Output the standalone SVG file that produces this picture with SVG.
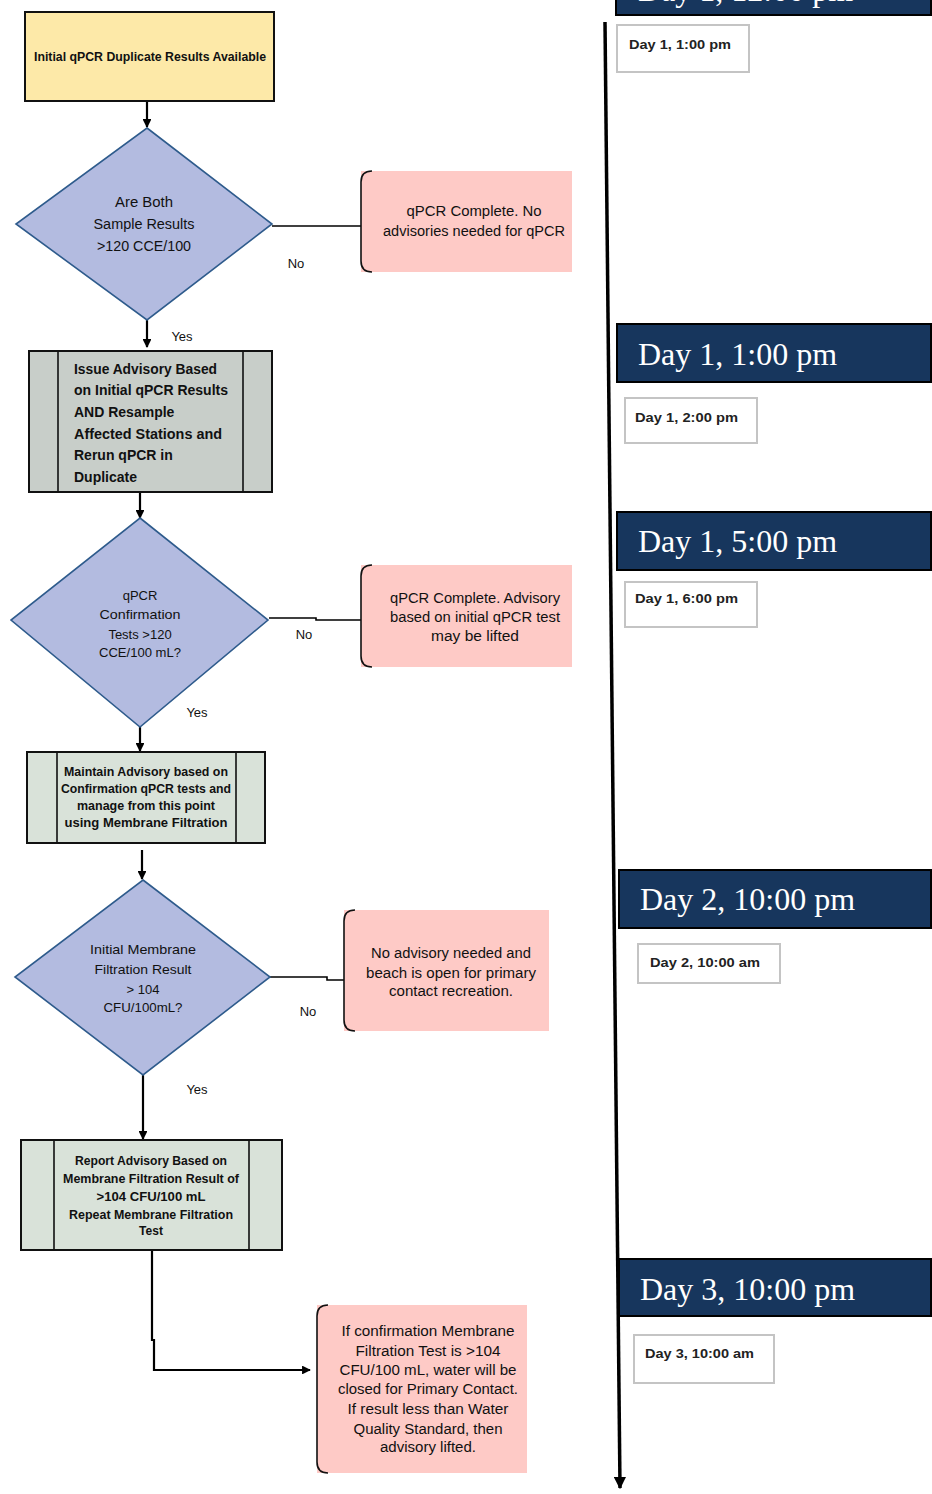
<svg xmlns="http://www.w3.org/2000/svg" width="932" height="1494" viewBox="0 0 932 1494">
<style>
.t{font-family:"Liberation Sans",Arial,sans-serif;fill:#111;}
.b{font-weight:bold;}
.c{text-anchor:middle;}
.dia{fill:#B3BBE0;stroke:#2E5B8C;stroke-width:1.6;}
.pink{fill:#FECAC6;}
.brk{fill:none;stroke:#111;stroke-width:1.6;}
.proc1{fill:#C8CEC9;stroke:#111;stroke-width:2;}
.proc2{fill:#D9E2D9;stroke:#111;stroke-width:2;}
.ln{fill:none;stroke:#111;stroke-width:1.6;}
.con{fill:none;stroke:#000;stroke-width:2.2;}
.navy{fill:#17365D;stroke:#000;stroke-width:2;}
.nt{font-family:"Liberation Serif","Times New Roman",serif;font-size:32px;fill:#fff;}
.wb{fill:#fff;stroke:#C4C4C4;stroke-width:2;}
.st{font-family:"Liberation Sans",Arial,sans-serif;font-weight:bold;font-size:13px;fill:#222;}
</style>
<defs>
<marker id="ah" viewBox="0 0 10 10" refX="9" refY="5" markerWidth="4" markerHeight="4" orient="auto" markerUnits="strokeWidth">
<path d="M0,0 L10,5 L0,10 z" fill="#000"/>
</marker>
<marker id="ahT" viewBox="0 0 10 10" refX="9" refY="5" markerWidth="3.5" markerHeight="3.5" orient="auto" markerUnits="strokeWidth">
<path d="M0,0 L10,5 L0,10 z" fill="#000"/>
</marker>
</defs>
<rect width="932" height="1494" fill="#fff"/>

<g id="connectors">
<path class="con" d="M147,101 V127" marker-end="url(#ah)"/>
<path class="con" d="M272,226 H361" style="stroke-width:1.6"/>
<path class="con" d="M147,320 V347" marker-end="url(#ah)"/>
<path class="con" d="M140,492 V518" marker-end="url(#ah)"/>
<path class="con" d="M269,618 H316 V620 H361" style="stroke-width:1.6"/>
<path class="con" d="M140,727 V751" marker-end="url(#ah)"/>
<path class="con" d="M142,850 V879" marker-end="url(#ah)"/>
<path class="con" d="M270,977 H327 V980 H344" style="stroke-width:1.6"/>
<path class="con" d="M143,1075 V1139" marker-end="url(#ah)"/>
<path class="con" d="M152,1250 V1340 H154 V1370 H310" marker-end="url(#ah)"/>
<path class="con" d="M605,22 L620,1488" style="stroke-width:3.5" marker-end="url(#ahT)"/>
</g>

<g id="labels">
<text class="t c" x="296" y="268" font-size="13">No</text>
<text class="t c" x="182" y="341" font-size="13">Yes</text>
<text class="t c" x="304" y="639" font-size="13">No</text>
<text class="t c" x="197" y="717" font-size="13">Yes</text>
<text class="t c" x="308" y="1016" font-size="13">No</text>
<text class="t c" x="197" y="1094" font-size="13">Yes</text>
</g>

<g id="start">
<rect x="25" y="12" width="249" height="89" fill="#FDE9A8" stroke="#111" stroke-width="2"/>
<text class="t b c" x="150" y="61" font-size="12" textLength="232" lengthAdjust="spacingAndGlyphs">Initial qPCR Duplicate Results Available</text>
</g>

<g id="decision1">
<polygon class="dia" points="147,128 272,224 147,320 16,224"/>
<text class="t c" x="144" y="207" font-size="14" textLength="58" lengthAdjust="spacingAndGlyphs">Are Both</text>
<text class="t c" x="144" y="229" font-size="14" textLength="101" lengthAdjust="spacingAndGlyphs">Sample Results</text>
<text class="t c" x="144" y="251" font-size="14" textLength="94" lengthAdjust="spacingAndGlyphs">&gt;120 CCE/100</text>
</g>

<g id="end1">
<rect class="pink" x="361" y="171" width="211" height="101"/>
<path class="brk" d="M372,171 Q361,171 361,182 V261 Q361,272 372,272"/>
<text class="t c" x="474" y="216" font-size="14" textLength="135" lengthAdjust="spacingAndGlyphs">qPCR Complete.  No</text>
<text class="t c" x="474" y="236" font-size="14" textLength="182" lengthAdjust="spacingAndGlyphs">advisories needed for qPCR</text>
</g>

<g id="process1">
<rect class="proc1" x="29" y="351" width="243" height="141"/>
<path class="ln" d="M58,351 V492 M243,351 V492"/>
<text class="t b" x="74" y="374" font-size="14" textLength="143" lengthAdjust="spacingAndGlyphs">Issue Advisory Based</text>
<text class="t b" x="74" y="395" font-size="14" textLength="154" lengthAdjust="spacingAndGlyphs">on Initial qPCR Results</text>
<text class="t b" x="74" y="417" font-size="14">AND Resample</text>
<text class="t b" x="74" y="439" font-size="14" textLength="148" lengthAdjust="spacingAndGlyphs">Affected Stations and</text>
<text class="t b" x="74" y="460" font-size="14">Rerun qPCR in</text>
<text class="t b" x="74" y="482" font-size="14">Duplicate</text>
</g>

<g id="decision2">
<polygon class="dia" points="140,518 268,620 140,727 11,620"/>
<text class="t c" x="140" y="600" font-size="13">qPCR</text>
<text class="t c" x="140" y="619" font-size="13" textLength="81" lengthAdjust="spacingAndGlyphs">Confirmation</text>
<text class="t c" x="140" y="639" font-size="13">Tests &gt;120</text>
<text class="t c" x="140" y="657" font-size="13" textLength="82" lengthAdjust="spacingAndGlyphs">CCE/100 mL?</text>
</g>

<g id="end2">
<rect class="pink" x="361" y="565" width="211" height="102"/>
<path class="brk" d="M372,565 Q361,565 361,576 V656 Q361,667 372,667"/>
<text class="t c" x="475" y="603" font-size="14" textLength="170" lengthAdjust="spacingAndGlyphs">qPCR Complete.  Advisory</text>
<text class="t c" x="475" y="622" font-size="14" textLength="170" lengthAdjust="spacingAndGlyphs">based on initial qPCR test</text>
<text class="t c" x="475" y="641" font-size="14" textLength="88" lengthAdjust="spacingAndGlyphs">may be lifted</text>
</g>

<g id="process2">
<rect class="proc2" x="27" y="752" width="238" height="91"/>
<path class="ln" d="M57,752 V843 M236,752 V843"/>
<text class="t b c" x="146" y="776" font-size="12" textLength="164" lengthAdjust="spacingAndGlyphs">Maintain Advisory based on</text>
<text class="t b c" x="146" y="793" font-size="12" textLength="170" lengthAdjust="spacingAndGlyphs">Confirmation qPCR tests and</text>
<text class="t b c" x="146" y="810" font-size="12" textLength="138" lengthAdjust="spacingAndGlyphs">manage from this point</text>
<text class="t b c" x="146" y="827" font-size="12" textLength="163" lengthAdjust="spacingAndGlyphs">using   Membrane Filtration</text>
</g>

<g id="decision3">
<polygon class="dia" points="143,880 270,977 143,1075 15,977"/>
<text class="t c" x="143" y="954" font-size="13" textLength="106" lengthAdjust="spacingAndGlyphs">Initial Membrane</text>
<text class="t c" x="143" y="974" font-size="13" textLength="97" lengthAdjust="spacingAndGlyphs">Filtration Result</text>
<text class="t c" x="143" y="994" font-size="13">&gt; 104</text>
<text class="t c" x="143" y="1012" font-size="13" textLength="79" lengthAdjust="spacingAndGlyphs">CFU/100mL?</text>
</g>

<g id="end3">
<rect class="pink" x="344" y="910" width="205" height="121"/>
<path class="brk" d="M355,910 Q344,910 344,921 V1020 Q344,1031 355,1031"/>
<text class="t c" x="451" y="958" font-size="14" textLength="160" lengthAdjust="spacingAndGlyphs">No advisory needed and</text>
<text class="t c" x="451" y="978" font-size="14" textLength="170" lengthAdjust="spacingAndGlyphs">beach is open for primary</text>
<text class="t c" x="451" y="996" font-size="14" textLength="124" lengthAdjust="spacingAndGlyphs">contact recreation.</text>
</g>

<g id="process3">
<rect class="proc2" x="21" y="1140" width="261" height="110"/>
<path class="ln" d="M54,1140 V1250 M249,1140 V1250"/>
<text class="t b c" x="151" y="1165" font-size="12" textLength="152" lengthAdjust="spacingAndGlyphs">Report Advisory Based on</text>
<text class="t b c" x="151" y="1183" font-size="12" textLength="176" lengthAdjust="spacingAndGlyphs">Membrane Filtration Result of</text>
<text class="t b c" x="151" y="1201" font-size="12" textLength="109" lengthAdjust="spacingAndGlyphs">&gt;104 CFU/100 mL</text>
<text class="t b c" x="151" y="1219" font-size="12" textLength="164" lengthAdjust="spacingAndGlyphs">Repeat Membrane Filtration</text>
<text class="t b c" x="151" y="1235" font-size="12">Test</text>
</g>

<g id="end4">
<rect class="pink" x="317" y="1305" width="210" height="168"/>
<path class="brk" d="M328,1305 Q317,1305 317,1316 V1462 Q317,1473 328,1473"/>
<text class="t c" x="428" y="1336" font-size="14" textLength="173" lengthAdjust="spacingAndGlyphs">If confirmation Membrane</text>
<text class="t c" x="428" y="1356" font-size="14" textLength="145" lengthAdjust="spacingAndGlyphs">Filtration Test is &gt;104</text>
<text class="t c" x="428" y="1375" font-size="14" textLength="177" lengthAdjust="spacingAndGlyphs">CFU/100 mL, water will be</text>
<text class="t c" x="428" y="1394" font-size="14" textLength="180" lengthAdjust="spacingAndGlyphs">closed for Primary Contact.</text>
<text class="t c" x="428" y="1414" font-size="14" textLength="161" lengthAdjust="spacingAndGlyphs">If result less than Water</text>
<text class="t c" x="428" y="1434" font-size="14" textLength="149" lengthAdjust="spacingAndGlyphs">Quality Standard, then</text>
<text class="t c" x="428" y="1452" font-size="14" textLength="96" lengthAdjust="spacingAndGlyphs">advisory lifted.</text>
</g>

<g id="time0">
<rect class="navy" x="616" y="-45" width="315" height="60"/>
<text class="nt" x="638" y="1">Day 1, 12:00 pm</text>
</g>
<g id="time1">
<rect class="navy" x="617" y="324" width="314" height="58"/>
<text class="nt" x="638" y="365">Day 1, 1:00 pm</text>
</g>
<g id="time2">
<rect class="navy" x="617" y="512" width="314" height="58"/>
<text class="nt" x="638" y="552">Day 1, 5:00 pm</text>
</g>
<g id="time3">
<rect class="navy" x="619" y="870" width="312" height="58"/>
<text class="nt" x="640" y="910">Day 2, 10:00 pm</text>
</g>
<g id="time4">
<rect class="navy" x="619" y="1259" width="312" height="57"/>
<text class="nt" x="640" y="1300">Day 3, 10:00 pm</text>
</g>

<g id="note1">
<rect class="wb" x="617" y="25" width="132" height="47"/>
<text class="st" x="629" y="49" textLength="102" lengthAdjust="spacingAndGlyphs">Day 1, 1:00 pm</text>
</g>
<g id="note2">
<rect class="wb" x="625" y="398" width="132" height="45"/>
<text class="st" x="635" y="422" textLength="103" lengthAdjust="spacingAndGlyphs">Day 1, 2:00 pm</text>
</g>
<g id="note3">
<rect class="wb" x="625" y="582" width="132" height="45"/>
<text class="st" x="635" y="603" textLength="103" lengthAdjust="spacingAndGlyphs">Day 1, 6:00 pm</text>
</g>
<g id="note4">
<rect class="wb" x="638" y="944" width="142" height="39"/>
<text class="st" x="650" y="967" textLength="110" lengthAdjust="spacingAndGlyphs">Day 2, 10:00 am</text>
</g>
<g id="note5">
<rect class="wb" x="634" y="1335" width="140" height="48"/>
<text class="st" x="645" y="1358" textLength="109" lengthAdjust="spacingAndGlyphs">Day 3, 10:00 am</text>
</g>
</svg>
